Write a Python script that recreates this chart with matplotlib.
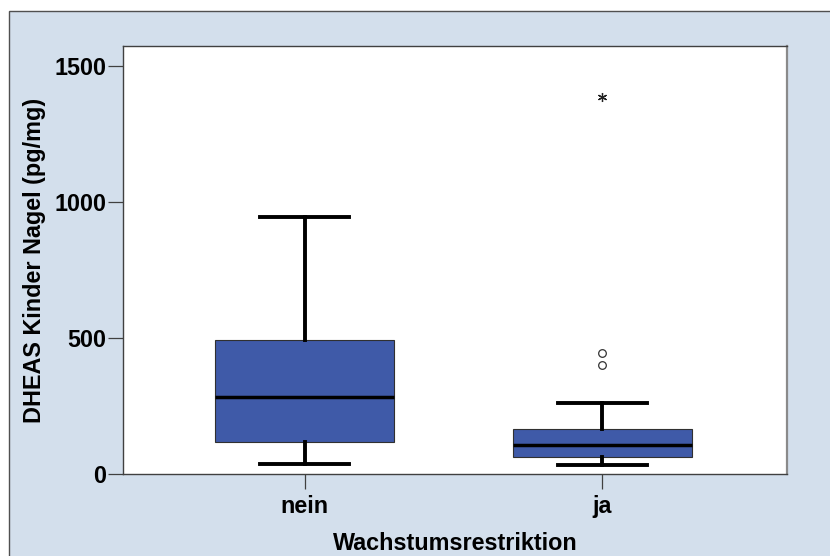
import matplotlib
matplotlib.use("Agg")
import matplotlib.pyplot as plt
from matplotlib.patches import Rectangle

categories = ["nein", "ja"]
whisker_low = [37, 32]
q1 = [119, 64]
median = [282, 105]
q3 = [491, 166]
whisker_high = [946, 262]
outliers = [[], [400, 446]]
extremes = [[], [1385]]

x_label = "Wachstumsrestriktion"
y_label = "DHEAS Kinder Nagel (pg/mg)"
y_ticks = [0, 500, 1000, 1500]

plt.rcParams['font.family'] = ['Liberation Sans', 'DejaVu Sans']

fig = plt.figure(figsize=(8.3, 5.56), dpi=100, facecolor='white')
bg = Rectangle((9 / 830, -0.05), 1.2, 1 - 11 / 556 + 0.05, transform=fig.transFigure,
               facecolor='#d3dfec', edgecolor='#505050', linewidth=1.0, zorder=-10)
fig.patches.append(bg)

ax = fig.add_axes([123 / 830, 1 - 474 / 556, (787 - 123) / 830, (474 - 46) / 556])
ax.set_facecolor('white')

stats = []
for i, c in enumerate(categories):
    stats.append(dict(label=c, whislo=whisker_low[i], q1=q1[i], med=median[i],
                      q3=q3[i], whishi=whisker_high[i], fliers=outliers[i]))

positions = list(range(1, len(categories) + 1))
ax.bxp(stats, positions=positions, widths=0.6, patch_artist=True, showfliers=True,
       boxprops=dict(facecolor='#3f5aa8', edgecolor='#303030', linewidth=0.8),
       medianprops=dict(color='black', linewidth=2.5),
       whiskerprops=dict(color='black', linewidth=2.8),
       capprops=dict(color='black', linewidth=2.8),
       capwidths=0.3,
       flierprops=dict(marker='o', markersize=5.5, markerfacecolor='none',
                       markeredgecolor='#333333', markeredgewidth=0.9))

for i, ex in enumerate(extremes):
    if ex:
        ax.plot([positions[i]] * len(ex), ex, linestyle='none', marker=(6, 2, 0),
                markersize=6.5, color='#222222', markeredgewidth=0.9)

ax.set_xlim(0.39, 2.62)
ax.set_ylim(0, 1574)
ax.set_yticks(y_ticks)
ax.set_yticklabels([str(t) for t in y_ticks])
ax.set_xticks(positions)
ax.set_xticklabels(categories)

for s in ['left', 'top', 'bottom']:
    ax.spines[s].set_color('#404040')
    ax.spines[s].set_linewidth(1.0)
ax.spines['right'].set_color('#8a8a8a')
ax.spines['right'].set_linewidth(1.6)

ax.tick_params(axis='both', direction='out', length=11, width=0.9, color='#404040',
               labelsize=16.8, pad=1)
ax.tick_params(axis='x', pad=4)
for lbl in ax.get_xticklabels() + ax.get_yticklabels():
    lbl.set_fontweight('bold')

ax.set_xlabel(x_label, fontsize=16.8, fontweight='bold', labelpad=10)
ax.set_ylabel(y_label, fontsize=16.8, fontweight='bold', labelpad=6)

fig.savefig("out.png", dpi=100, facecolor='white')
